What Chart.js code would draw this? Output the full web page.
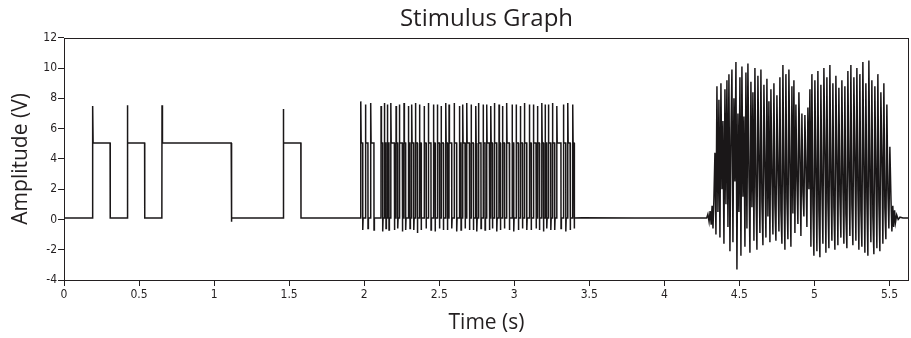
<!DOCTYPE html>
<html>
<head>
<meta charset="utf-8">
<script src="https://cdn.jsdelivr.net/npm/chart.js@4.4.1/dist/chart.umd.min.js"></script>
<style>
  html, body { margin: 0; padding: 0; background: #fff; }
  #wrap { width: 911px; height: 338px; }
</style>
</head>
<body>
<div id="wrap"><canvas id="stimulus"></canvas></div>
<script>
// square pulses at the start (s, V)
const squareT = [0, 0.190, 0.191, 0.194, 0.307, 0.308, 0.421, 0.422, 0.425, 0.537, 0.538, 0.652, 0.653, 0.656, 1.114, 1.115, 1.118, 1.460, 1.461, 1.464, 1.578, 1.579, 1.975];
const squareV = [0.1, 0.1, 7.5, 5.05, 5.05, 0.1, 0.1, 7.55, 5.05, 5.05, 0.1, 0.1, 7.55, 5.05, 5.05, -0.15, 0.1, 0.1, 7.3, 5.05, 5.05, 0.1, 0.1];

// fast pulse train: edge times (rise, fall, rise, ...)
const trainEdges = [
  1.977, 1.990, 2.008, 2.025, 2.043, 2.065, 2.112, 2.123, 2.134, 2.145,
  2.154, 2.165, 2.177, 2.201, 2.212, 2.223, 2.234, 2.254, 2.265, 2.276,
  2.294, 2.305, 2.316, 2.330, 2.341, 2.354, 2.368, 2.379, 2.399, 2.412,
  2.427, 2.445, 2.461, 2.472, 2.487, 2.501, 2.512, 2.527, 2.543, 2.554,
  2.565, 2.583, 2.599, 2.616, 2.634, 2.645, 2.656, 2.672, 2.683, 2.701,
  2.712, 2.727, 2.743, 2.750, 2.761, 2.778, 2.792, 2.805, 2.816, 2.834,
  2.843, 2.854, 2.867, 2.883, 2.898, 2.907, 2.921, 2.934, 2.949, 2.967,
  2.985, 2.996, 3.012, 3.027, 3.040, 3.054, 3.067, 3.083, 3.100, 3.112,
  3.127, 3.145, 3.154, 3.167, 3.183, 3.194, 3.205, 3.216, 3.227, 3.243,
  3.254, 3.269, 3.283, 3.311, 3.327, 3.343, 3.356, 3.372, 3.389, 3.398
];
// overshoot on each rising edge / undershoot on each falling edge
const trainPeaks = [
  7.8, 7.6, 7.7, 7.5, 7.7, 7.6, 7.7, 7.5, 7.6, 7.7,
  7.5, 7.6, 7.7, 7.6, 7.5, 7.7, 7.6, 7.6, 7.5, 7.7,
  7.6, 7.7, 7.5, 7.6, 7.7, 7.6, 7.5, 7.7, 7.6, 7.6,
  7.5, 7.7, 7.6, 7.5, 7.7, 7.6, 7.6, 7.5, 7.7, 7.6,
  7.6, 7.5, 7.7, 7.6, 7.6, 7.7, 7.5, 7.6, 7.7, 7.6
];
const trainDips = [
  -0.7, -0.6, -0.7, -0.8, -0.6, -0.7, -0.7, -0.6, -0.8, -0.7,
  -0.6, -0.7, -0.9, -0.7, -0.6, -0.7, -0.8, -0.6, -0.7, -0.7,
  -0.6, -0.8, -0.7, -0.6, -0.7, -0.7, -0.8, -0.6, -0.7, -0.7,
  -0.6, -0.8, -0.7, -0.6, -0.7, -0.8, -0.7, -0.6, -0.7, -0.7,
  -0.6, -0.7, -0.8, -0.6, -0.7, -0.7, -0.6, -0.8, -0.7, -0.6
];

// quiet stretch and ringing into the noise burst
const quietT = [3.402, 3.45, 3.8, 4.2, 4.282, 4.290, 4.298, 4.305, 4.312, 4.318, 4.324, 4.330];
const quietV = [0.1, 0.12, 0.1, 0.1, 0.1, 0.35, -0.15, 0.55, -0.35, 0.9, -0.6, 1.3];

// noise burst samples, 1 per ~6.7 ms
const burstStart = 4.337;
const burstStep = 0.00666;
const burstV = [
  4.4, -1.0, 8.8, 0.5, 7.9, -1.2, 9.0, 2.0, 6.5, -1.6, 8.6, 1.0, 9.2, -0.5, 9.6, -2.1,
  5.5, 9.9, -1.5, 8.0, 2.5, 10.4, -3.3, 7.0, 0.5, 9.4, -2.4, 10.1, 1.5, 6.8, -1.8, 9.7,
  -0.6, 10.3, 3.0, -2.2, 9.1, 0.8, 8.4, -1.4, 10.0, 2.2, -2.0, 9.5, 4.0, -0.9, 9.9, 1.2,
  -1.7, 8.9, 3.5, -1.2, 9.3, 0.2, 7.8, -1.5, 8.6, 2.8, -1.0, 9.0, 1.0, -1.4, 8.2, 3.2,
  -0.8, 9.4, 0.6, -1.6, 10.2, 2.4, -2.0, 9.6, 1.4, -1.3, 9.9, 3.6, -1.8, 8.8, 0.4, 9.2,
  -0.9, 7.6, 2.6, -0.3, 8.4, 4.2, -1.1, 7.0, 1.8, 0.2, 6.9, 3.4, -0.5, 7.4, 2.0, 8.6,
  -1.8, 9.6, 1.0, -2.4, 9.2, 3.0, -2.1, 9.8, 0.6, -2.5, 8.9, 2.2, -1.6, 10.0, 4.6, -2.2,
  9.4, 1.2, -1.9, 10.2, 2.6, -1.4, 9.0, 0.8, -2.0, 9.5, 3.8, -1.7, 8.7, 1.6, -1.2, 9.2,
  2.4, -1.6, 8.8, 0.4, -1.9, 9.8, 3.2, -1.1, 10.2, 1.0, -1.7, 9.4, 4.0, -1.4, 10.0, 2.0,
  -2.0, 9.6, 0.6, -1.8, 10.4, 3.4, -2.2, 9.0, 1.4, -2.4, 10.5, 2.8, -1.5, 9.2, 0.2, -2.3,
  8.8, 3.0, -1.9, 9.6, 1.2, -2.1, 8.4, 4.2, -1.6, 9.0, 0.8, -1.3, 7.6, 2.0, -0.6, 4.8
];

// ringing after the burst
const tailT = [5.510, 5.516, 5.522, 5.528, 5.534, 5.540, 5.548, 5.558, 5.570, 5.590, 5.630];
const tailV = [1.3, -0.8, 0.9, -0.5, 0.6, -0.2, 0.3, 0.0, 0.15, 0.1, 0.1];

const yTicks = [-4, -2, 0, 2, 4, 6, 8, 10, 12];
const xTicks = [0, 0.5, 1, 1.5, 2, 2.5, 3, 3.5, 4, 4.5, 5, 5.5];

// build the trace
let trace = [];
squareT.forEach((t, i) => trace.push({ x: t, y: squareV[i] }));
trainEdges.forEach((t, i) => {
  let k = Math.floor(i / 2);
  if (i % 2 == 0) {
    trace.push({ x: t, y: 0.1 });
    trace.push({ x: t + 0.0005, y: trainPeaks[k] });
    trace.push({ x: t + 0.003, y: 5.05 });
  } else {
    trace.push({ x: t, y: 5.05 });
    trace.push({ x: t + 0.0005, y: trainDips[k] });
    trace.push({ x: t + 0.003, y: 0.1 });
  }
});
quietT.forEach((t, i) => trace.push({ x: t, y: quietV[i] }));
burstV.forEach((v, i) => trace.push({ x: burstStart + i * burstStep, y: v }));
tailT.forEach((t, i) => trace.push({ x: t, y: tailV[i] }));

const ink = '#231f20';

// box round the plot area
const frame = {
  id: 'frame',
  afterDraw(chart) {
    const a = chart.chartArea;
    const c = chart.ctx;
    c.save();
    c.strokeStyle = ink;
    c.lineWidth = 1;
    c.strokeRect(Math.round(a.left) + 0.5, Math.round(a.top) + 0.5, Math.round(a.right - a.left) - 1, Math.round(a.bottom - a.top));
    c.restore();
  }
};

let chart = new Chart(document.getElementById('stimulus').getContext('2d'), {
  type: 'line',
  data: {
    datasets: [{
      label: 'Stimulus',
      data: trace,
      borderColor: '#1a1718',
      borderWidth: 1.5,
      pointRadius: 0,
      tension: 0,
      fill: false
    }]
  },
  options: {
    responsive: true,
    maintainAspectRatio: false,
    animation: false,
    layout: { padding: { left: 0, right: 2, top: 0, bottom: 0 } },
    plugins: {
      legend: { display: false },
      tooltip: { enabled: false },
      title: {
        display: true,
        text: 'Stimulus Graph',
        fullSize: false,
        color: ink,
        font: { family: 'Open Sans', size: 24, weight: 'normal' },
        padding: { top: 5, bottom: 4 }
      }
    },
    scales: {
      x: {
        type: 'linear',
        min: 0,
        max: 5.63,
        afterBuildTicks: s => { s.ticks = xTicks.map(v => ({ value: v })); },
        afterFit: s => { s.height = 58; },
        grid: { display: true, drawOnChartArea: false, drawTicks: true, tickLength: 6, color: ink },
        border: { display: false },
        ticks: {
          color: ink,
          padding: 2,
          maxRotation: 0,
          font: { family: 'DejaVu Sans Condensed', size: 12 },
          callback: v => String(v)
        },
        title: {
          display: true,
          text: 'Time (s)',
          color: ink,
          font: { family: 'Open Sans', size: 21 },
          padding: { top: 0, bottom: 2 }
        }
      },
      y: {
        type: 'linear',
        min: -4,
        max: 12,
        afterBuildTicks: s => { s.ticks = yTicks.map(v => ({ value: v })); },
        afterFit: s => { s.width = 64; },
        grid: { display: true, drawOnChartArea: false, drawTicks: true, tickLength: 6, color: ink },
        border: { display: false },
        ticks: {
          color: ink,
          padding: 1,
          font: { family: 'DejaVu Sans Condensed', size: 12 },
          callback: v => String(v)
        },
        title: {
          display: true,
          text: 'Amplitude (V)',
          color: ink,
          font: { family: 'Open Sans', size: 21 },
          padding: { top: 8, bottom: 0 }
        }
      }
    }
  },
  plugins: [frame]
});
</script>
</body>
</html>
